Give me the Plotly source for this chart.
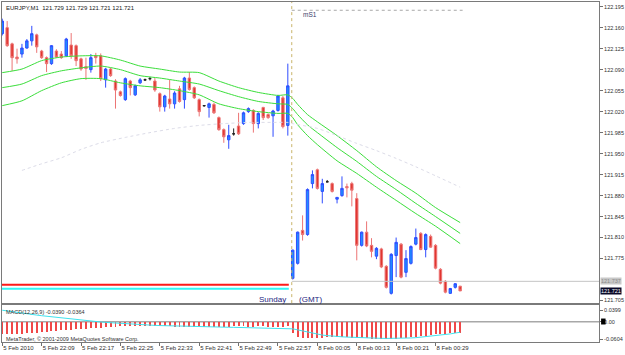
import plotly.graph_objects as go

# ---------------- data ----------------
opens = [122.150,122.160,122.133,122.111,122.116,122.126,122.138,122.148,122.121,122.110,
         122.100,122.121,122.116,122.113,122.131,122.130,122.108,122.095,122.090,122.113,
         122.113,122.073,122.091,122.071,122.053,122.040,122.071,122.048,122.068,122.073,
         122.075,122.071,122.050,122.028,122.041,122.033,122.058,122.040,122.076,122.060,
         122.040,122.030,122.027,122.032,122.010,121.990,121.973,121.983,121.996,122.000,
         122.020,122.022,122.000,122.027,122.015,122.013,122.022,122.043,121.997,121.742,
         121.767,121.822,121.815,121.900,121.923,121.887,121.903,121.900,121.874,121.880,
         121.895,121.900,121.875,121.797,121.819,121.797,121.779,121.791,121.762,121.717,
         121.780,121.799,121.752,121.767,121.799,121.817,121.790,121.812,121.797,121.757,
         121.737,121.717,121.727,121.729]
highs = [122.175,122.171,122.135,122.125,122.133,122.141,122.163,122.150,122.123,122.112,
         122.131,122.124,122.121,122.143,122.151,122.132,122.110,122.110,122.116,122.118,
         122.117,122.093,122.093,122.074,122.055,122.077,122.073,122.065,122.076,122.075,
         122.078,122.076,122.052,122.048,122.073,122.054,122.063,122.078,122.086,122.062,
         122.042,122.031,122.035,122.035,122.012,121.992,121.998,121.992,122.018,122.020,
         122.027,122.024,122.019,122.028,122.017,122.023,122.048,122.046,122.100,121.790,
         121.820,121.847,121.892,121.922,121.925,121.908,121.906,121.902,121.877,121.912,
         121.900,121.903,121.884,121.820,121.837,121.809,121.794,121.793,121.764,121.784,
         121.810,121.801,121.789,121.797,121.825,121.819,121.817,121.815,121.799,121.759,
         121.739,121.726,121.734,121.729]
lows = [122.147,122.128,122.088,122.100,122.110,122.125,122.130,122.118,122.108,122.086,
        122.098,122.110,122.108,122.111,122.108,122.096,122.088,122.073,122.085,122.100,
        122.071,122.060,122.078,122.025,122.045,122.038,122.047,122.046,122.066,122.071,
        122.072,122.053,122.020,122.020,122.025,122.025,122.035,122.025,122.055,122.041,
        122.012,122.028,122.010,122.016,121.988,121.968,121.958,121.980,121.981,121.998,
        122.018,121.985,121.992,122.006,122.008,121.978,122.020,121.992,121.980,121.740,
        121.765,121.805,121.813,121.892,121.890,121.867,121.902,121.885,121.867,121.878,
        121.877,121.862,121.772,121.795,121.794,121.777,121.774,121.759,121.725,121.715,
        121.744,121.742,121.744,121.765,121.797,121.789,121.777,121.793,121.757,121.732,
        121.717,121.716,121.725,121.721]
closes = [122.171,122.130,122.110,122.108,122.126,122.138,122.150,122.128,122.110,122.100,
          122.130,122.111,122.110,122.141,122.113,122.105,122.091,122.092,122.110,122.110,
          122.075,122.091,122.080,122.056,122.047,122.075,122.060,122.063,122.073,122.073,
          122.075,122.056,122.028,122.046,122.033,122.051,122.037,122.076,122.057,122.043,
          122.020,122.030,122.033,122.018,121.990,121.978,121.980,121.983,121.983,122.018,
          122.025,122.000,122.017,122.010,122.010,122.021,122.046,121.995,122.063,121.789,
          121.819,121.815,121.890,121.915,121.892,121.900,121.903,121.887,121.877,121.892,
          121.893,121.889,121.797,121.819,121.796,121.787,121.792,121.761,121.727,121.782,
          121.802,121.744,121.775,121.795,121.810,121.790,121.815,121.794,121.759,121.734,
          121.719,121.725,121.733,121.721]

tick_bars = [0, 8, 16, 24, 32, 40, 48, 56, 64, 72, 80, 88]
tick_labels = ["5 Feb 2010", "5 Feb 22:09", "5 Feb 22:17", "5 Feb 22:25", "5 Feb 22:33",
               "5 Feb 22:41", "5 Feb 22:49", "5 Feb 22:57", "8 Feb 00:05", "8 Feb 00:13",
               "8 Feb 00:21", "8 Feb 00:29"]

env_bars = [0,4,8,12,16,20,24,28,32,36,40,44,48,52,56,58,59,60,62,64,68,72,76,80,84,88,93]
env_upper = [122.085,122.091,122.105,122.111,122.113,122.113,122.106,122.096,122.091,122.086,
             122.085,122.071,122.060,122.052,122.047,122.048,122.042,122.032,122.015,122.003,
             121.980,121.955,121.928,121.905,121.884,121.860,121.835]
env_mid = [122.060,122.066,122.080,122.088,122.093,122.096,122.090,122.080,122.076,122.071,
           122.066,122.055,122.045,122.037,122.033,122.032,122.025,122.015,121.998,121.985,
           121.960,121.937,121.912,121.890,121.867,121.845,121.817]
env_lower = [122.030,122.038,122.055,122.068,122.075,122.075,122.068,122.063,122.060,122.055,
             122.048,122.033,122.025,122.020,122.017,122.017,122.010,121.998,121.980,121.965,
             121.938,121.917,121.894,121.872,121.850,121.829,121.800]

ma_bars = [4,8,12,16,20,25,30,35,40,45,50,55,58,59,64,68,72,76,80,84,88,93]
ma_slow = [121.922,121.933,121.943,121.957,121.968,121.977,121.985,121.992,121.997,122.000,
           122.002,122.002,122.002,122.000,121.992,121.980,121.967,121.955,121.942,121.928,
           121.913,121.894]

macd_main = [-0.044,-0.043,-0.043,-0.042,-0.041,-0.040,-0.039,-0.038,-0.036,-0.035,
             -0.033,-0.032,-0.030,-0.029,-0.028,-0.027,-0.026,-0.025,-0.023,-0.022,
             -0.021,-0.019,-0.018,-0.017,-0.016,-0.015,-0.015,-0.014,-0.014,-0.014,
             -0.015,-0.015,-0.015,-0.016,-0.016,-0.017,-0.018,-0.019,-0.019,-0.020,
             -0.020,-0.019,-0.019,-0.018,-0.018,-0.017,-0.017,-0.016,-0.016,-0.016,
             -0.017,-0.017,-0.016,-0.016,-0.017,-0.018,-0.020,-0.019,-0.016,
             -0.040,-0.052,-0.057,-0.058,-0.057,-0.056,-0.055,-0.054,-0.053,-0.052,-0.053,
             -0.054,-0.055,-0.056,-0.057,-0.058,-0.059,-0.059,-0.060,-0.0604,-0.060,
             -0.059,-0.058,-0.056,-0.054,-0.052,-0.050,-0.048,-0.046,-0.044,-0.042,
             -0.041,-0.040,-0.0395,-0.039]
macd_signal = [0.0399,0.0372,0.0346,0.0321,0.0297,0.0274,0.0252,0.0231,0.0210,0.0190,
               0.0170,0.0150,0.0131,0.0112,0.0093,0.0075,0.0057,0.0040,0.0023,0.0007,
               -0.0008,-0.0022,-0.0035,-0.0048,-0.0060,-0.0071,-0.0082,-0.0092,-0.0101,-0.0110,
               -0.0118,-0.0125,-0.0131,-0.0137,-0.0142,-0.0147,-0.0151,-0.0155,-0.0159,-0.0163,
               -0.0167,-0.0171,-0.0175,-0.0179,-0.0183,-0.0187,-0.0190,-0.0193,-0.0196,-0.0199,
               -0.0202,-0.0205,-0.0208,-0.0211,-0.0214,-0.0217,-0.0220,-0.0223,-0.0226,
               -0.0245,-0.028,-0.032,-0.036,-0.040,-0.043,-0.046,-0.048,-0.050,-0.051,
               -0.052,-0.053,-0.054,-0.055,-0.0555,-0.056,-0.0565,-0.057,-0.0573,-0.0576,
               -0.0578,-0.0578,-0.0575,-0.057,-0.056,-0.055,-0.0535,-0.052,-0.050,-0.048,
               -0.046,-0.044,-0.042,-0.039,-0.0364]

ask_price = 121.737
bid_price = 121.721
prev_high_line = 121.7314
prev_low_line = 121.7245
ms1_level = 122.189
session_break = 58.8

# ---------------- figure ----------------
bars = list(range(len(opens)))
normal = [i for i in bars if opens[i] != closes[i]]
doji = [i for i in bars if opens[i] == closes[i]]

X_RANGE = [-0.05, 121.2]
Y_RANGE = [121.7007, 122.2028]
M_RANGE = [-0.070, 0.0576]
FONT = "Liberation Sans"

fig = go.Figure()

for vals in (env_upper, env_mid, env_lower):
    fig.add_trace(go.Scatter(x=env_bars, y=vals, mode="lines",
                             line=dict(color="#3ade3a", width=1, shape="spline", smoothing=0.6),
                             hoverinfo="skip", xaxis="x", yaxis="y"))
fig.add_trace(go.Scatter(x=ma_bars, y=ma_slow, mode="lines",
                         line=dict(color="#dcdce8", width=1, dash="dot", shape="spline", smoothing=0.6),
                         hoverinfo="skip", xaxis="x", yaxis="y"))

fig.add_trace(go.Candlestick(
    x=normal,
    open=[opens[i] for i in normal], high=[highs[i] for i in normal],
    low=[lows[i] for i in normal], close=[closes[i] for i in normal],
    increasing=dict(line=dict(color="#2f4cff", width=1), fillcolor="#1e90ff"),
    decreasing=dict(line=dict(color="#ec7474", width=1), fillcolor="#e0352f"),
    whiskerwidth=0, hoverinfo="skip", xaxis="x", yaxis="y"))
fig.add_trace(go.Candlestick(
    x=doji,
    open=[opens[i] for i in doji], high=[highs[i] for i in doji],
    low=[lows[i] for i in doji], close=[closes[i] for i in doji],
    increasing=dict(line=dict(color="#202020", width=1), fillcolor="#202020"),
    decreasing=dict(line=dict(color="#202020", width=1), fillcolor="#202020"),
    whiskerwidth=0, hoverinfo="skip", xaxis="x", yaxis="y"))

fig.add_trace(go.Bar(x=bars, y=macd_main, width=0.2, marker=dict(color="#f04848", line=dict(width=0)),
                     hoverinfo="skip", xaxis="x2", yaxis="y2"))
fig.add_trace(go.Scatter(x=bars, y=macd_signal, mode="lines", line=dict(color="#3fe3ef", width=1),
                         hoverinfo="skip", xaxis="x2", yaxis="y2"))

shapes = [
    dict(type="line", xref="x", yref="y", x0=X_RANGE[0], x1=session_break - 0.6,
         y0=prev_high_line, y1=prev_high_line, line=dict(color="#ff1a1a", width=2)),
    dict(type="line", xref="x", yref="y", x0=X_RANGE[0], x1=session_break - 0.6,
         y0=prev_low_line, y1=prev_low_line, line=dict(color="#33f5f5", width=2)),
    dict(type="line", xref="x", yref="y", x0=session_break, x1=X_RANGE[1],
         y0=ask_price, y1=ask_price, line=dict(color="#c4c4c4", width=1)),
    dict(type="line", xref="x", yref="y", x0=session_break, x1=93.5,
         y0=ms1_level, y1=ms1_level, line=dict(color="#a8a8a8", width=1, dash="dot")),
    dict(type="line", xref="x", yref="y domain", x0=session_break, x1=session_break,
         y0=0, y1=1, line=dict(color="#c9b46a", width=1, dash="dot")),
    dict(type="line", xref="x2", yref="y2", x0=X_RANGE[0], x1=X_RANGE[1],
         y0=0, y1=0, line=dict(color="#a8a8a8", width=1.5), layer="below"),
    dict(type="rect", xref="paper", yref="paper", x0=1.0035, x1=1.0110,
         y0=0.0515, y1=0.0690, fillcolor="#000000", line=dict(width=0), layer="above"),
]

ann = [
    dict(text="EURJPY,M1  121.729 121.729 121.721 121.721", xref="paper", yref="paper",
         x=0.003, y=0.982, xanchor="left", yanchor="middle", showarrow=False,
         font=dict(size=6, color="#202020")),
    dict(text="mS1", xref="x", yref="paper", x=60.6, y=0.962, xanchor="left", yanchor="middle",
         showarrow=False, font=dict(size=6.5, color="#3a3a6a")),
    dict(text="Sunday", xref="x", yref="paper", x=58.0, y=0.124, xanchor="right", yanchor="middle",
         showarrow=False, font=dict(size=8, color="#1c2480")),
    dict(text="(GMT)", xref="x", yref="paper", x=59.9, y=0.124, xanchor="left", yanchor="middle",
         showarrow=False, font=dict(size=8, color="#1c2480")),
    dict(text="MACD(12,26,9) -0.0390 -0.0364", xref="paper", yref="paper", x=0.004, y=0.088,
         xanchor="left", yanchor="middle", showarrow=False, font=dict(size=5.5, color="#303030")),
    dict(text="MetaTrader, © 2001-2009 MetaQuotes Software Corp.", xref="paper", yref="paper",
         x=0.004, y=0.009, xanchor="left", yanchor="middle", showarrow=False,
         font=dict(size=5.5, color="#303030")),
    dict(text="121.737", xref="paper", yref="y", x=1.002, y=ask_price, xanchor="left", yanchor="middle",
         showarrow=False, bgcolor="#c8c8c8", borderpad=0, font=dict(size=5.5, color="#8a8a8a")),
    dict(text="121.721", xref="paper", yref="y", x=1.002, y=bid_price, xanchor="left", yanchor="middle",
         showarrow=False, bgcolor="#0a0a28", borderpad=0, font=dict(size=5.5, color="#ffffff")),
]

price_ticks = [122.195, 122.160, 122.125, 122.090, 122.055, 122.020, 121.985, 121.950,
               121.915, 121.880, 121.845, 121.810, 121.775, 121.705]

fig.update_layout(
    width=625, height=355, margin=dict(l=2, r=24, t=1, b=13),
    paper_bgcolor="white", plot_bgcolor="white", showlegend=False,
    font=dict(family=FONT, size=6, color="#202020"),
    bargap=0,
    xaxis=dict(domain=[0, 1], range=X_RANGE, anchor="y", showticklabels=False, ticks="",
               showline=True, mirror=True, linecolor="#7a7a7a", linewidth=1,
               showgrid=False, zeroline=False, rangeslider=dict(visible=False)),
    yaxis=dict(domain=[0.1144, 1], range=Y_RANGE, side="right", anchor="x",
               tickvals=price_ticks, ticktext=[f"{v:.3f}" for v in price_ticks],
               ticks="outside", ticklen=3, tickcolor="#707070",
               tickfont=dict(size=5.5, color="#303030"),
               showline=True, mirror=True, linecolor="#7a7a7a", linewidth=1,
               showgrid=False, zeroline=False),
    xaxis2=dict(domain=[0, 1], range=X_RANGE, anchor="y2",
                tickvals=tick_bars, ticktext=tick_labels, ticks="outside", ticklen=3,
                tickcolor="#707070", ticklabelposition="outside right", tickangle=0,
                tickfont=dict(size=6, color="#303030"),
                showline=True, mirror=True, linecolor="#7a7a7a", linewidth=1,
                showgrid=False, zeroline=False),
    yaxis2=dict(domain=[0, 0.1085], range=M_RANGE, side="right", anchor="x2",
                tickvals=[0.0399, 0.0, -0.0604], ticktext=["0.0399", "0.00", "-0.0604"],
                ticks="outside", ticklen=3, tickcolor="#707070",
                tickfont=dict(size=5.5, color="#303030"),
                showline=True, mirror=True, linecolor="#7a7a7a", linewidth=1,
                showgrid=False, zeroline=False),
    shapes=shapes, annotations=ann,
)

fig.write_html("out.html")
